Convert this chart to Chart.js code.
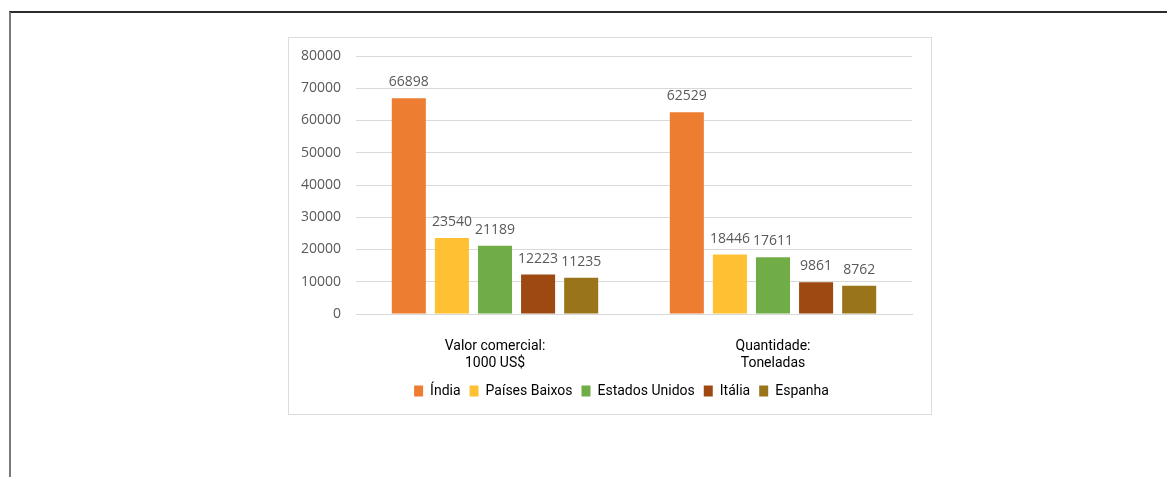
<!DOCTYPE html>
<html>
<head>
<meta charset="utf-8">
<script src="https://cdn.jsdelivr.net/npm/chart.js@4"></script>
<style>
  body { margin: 0; background: #fff; width: 1167px; height: 477px; overflow: hidden; position: relative; }
  .page { position: absolute; left: 9px; top: 11px; right: 0; bottom: 0; border-top: 2px solid #2b2b2b; border-left: 2px solid #7a7a7a; }
  .box { position: absolute; left: 288px; top: 37px; width: 642px; height: 376px; border: 1px solid #dcdcdc; background: #fff; }
</style>
</head>
<body>
<div class="page"></div>
<div class="box"><canvas id="myChart" width="642" height="376"></canvas></div>
<script>
const categories = [['Valor comercial:', '1000 US$'], ['Quantidade:', 'Toneladas']];
const countries = ['Índia', 'Países Baixos', 'Estados Unidos', 'Itália', 'Espanha'];
const india = [66898, 62529];
const paisesBaixos = [23540, 18446];
const estadosUnidos = [21189, 17611];
const italia = [12223, 9861];
const espanha = [11235, 8762];
const colors = ['#ED7D31', '#FFC133', '#70AD47', '#9E4812', '#99741A'];

const narrowFont = 'Roboto, "DejaVu Sans Condensed", sans-serif';

// rótulos de valor acima das barras
const valueLabels = {
    id: 'valueLabels',
    afterDatasetsDraw(chart) {
        const ctx = chart.ctx;
        ctx.save();
        ctx.font = '14px "Open Sans"';
        ctx.fillStyle = '#595959';
        ctx.textAlign = 'center';
        ctx.textBaseline = 'alphabetic';
        chart.data.datasets.forEach((ds, i) => {
            chart.getDatasetMeta(i).data.forEach((bar, j) => {
                ctx.fillText(ds.data[j], bar.x, bar.y - 12);
            });
        });
        ctx.restore();
    }
};

// legenda um pouco deslocada para a direita, como no original
const legendShift = {
    id: 'legendShift',
    afterLayout(chart) {
        chart.legend.left += 21;
        chart.legend.right += 21;
    }
};

const seriesData = [india, paisesBaixos, estadosUnidos, italia, espanha];
const ctx = document.getElementById('myChart').getContext('2d');
const myChart = new Chart(ctx, {
    type: 'bar',
    data: {
        labels: categories,
        datasets: countries.map((name, i) => ({
            label: name,
            data: seriesData[i],
            backgroundColor: colors[i],
            categoryPercentage: 0.775,
            barPercentage: 0.79
        }))
    },
    options: {
        responsive: false,
        animation: false,
        layout: { padding: { top: 18, right: 19, bottom: 6, left: 0 } },
        plugins: {
            legend: {
                position: 'bottom',
                labels: {
                    font: { family: narrowFont, size: 14 },
                    color: '#000',
                    boxWidth: 9,
                    boxHeight: 11,
                    padding: 9
                }
            },
            tooltip: { enabled: false }
        },
        scales: {
            x: {
                grid: { display: false },
                border: { color: '#d9d9d9' },
                ticks: {
                    font: { family: narrowFont, size: 14 },
                    color: '#000',
                    padding: 16
                },
                afterFit(scale) { scale.height = 61; }
            },
            y: {
                min: 0,
                max: 80000,
                ticks: {
                    stepSize: 10000,
                    font: { family: '"Open Sans"', size: 14 },
                    color: '#595959',
                    padding: 15,
                    callback: v => String(v)
                },
                grid: { color: '#d9d9d9', drawTicks: false },
                border: { display: false },
                afterFit(scale) {
                    scale.width = 67;
                    scale.paddingTop = 8;
                    scale.paddingBottom = 8;
                }
            }
        }
    },
    plugins: [valueLabels, legendShift]
});
</script>
</body>
</html>
